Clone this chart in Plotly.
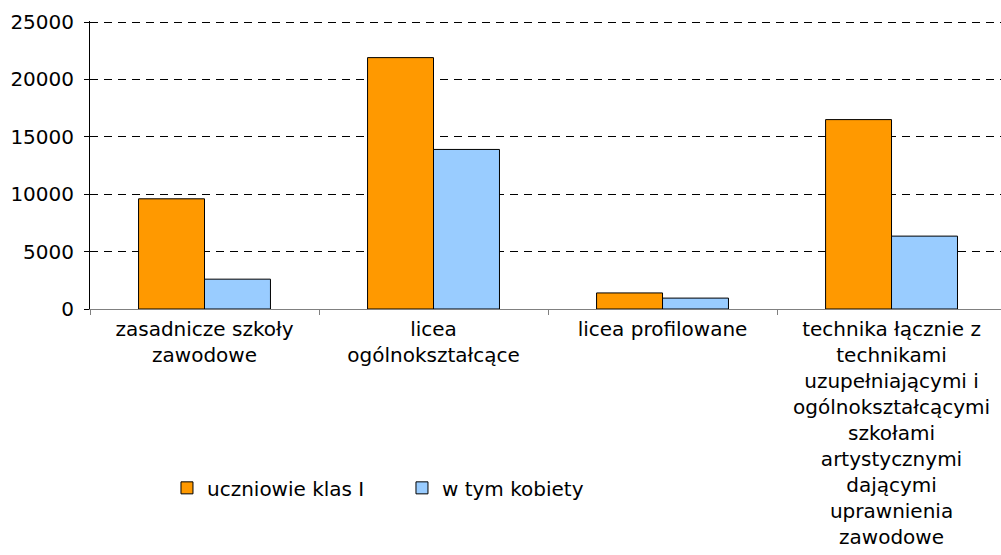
import plotly.graph_objects as go

categories = [
    "zasadnicze szkoły<br>zawodowe",
    "licea<br>ogólnokształcące",
    "licea profilowane",
    "technika łącznie z<br>technikami<br>uzupełniającymi i<br>ogólnokształcącymi<br>szkołami<br>artystycznymi<br>dającymi<br>uprawnienia<br>zawodowe",
]
series_names = ["uczniowie klas I", "w tym kobiety"]
uczniowie = [9600, 21900, 1400, 16500]
kobiety = [2600, 13900, 950, 6350]
y_ticks = [0, 5000, 10000, 15000, 20000, 25000]
y_tick_labels = ["0", "5000", "10000", "15000", "20000", "25000"]

FONT = "Verdana, DejaVu Sans, sans-serif"

fig = go.Figure()
fig.add_trace(go.Bar(x=categories, y=uczniowie, name=series_names[0],
                     marker=dict(color="#FF9900", line=dict(color="#000000", width=1))))
fig.add_trace(go.Bar(x=categories, y=kobiety, name=series_names[1],
                     marker=dict(color="#99CCFF", line=dict(color="#000000", width=1))))

fig.update_layout(
    width=1001, height=555,
    margin=dict(l=90, r=0, t=21, b=246),
    paper_bgcolor="white", plot_bgcolor="white",
    font=dict(family=FONT, size=20, color="#000000"),
    barmode="group", bargap=0.424, bargroupgap=0,
    showlegend=True,
    legend=dict(orientation="h", x=0.0845, y=-0.621, xanchor="left", yanchor="middle",
                font=dict(size=20), entrywidth=190, traceorder="normal"),
)
fig.update_xaxes(
    range=[-0.5, 3.478], tickson="boundaries", ticks="outside", ticklen=5,
    tickcolor="#808080", showline=True, linecolor="#808080", linewidth=1,
    showgrid=False, tickangle=0, fixedrange=True, ticklabelstandoff=2,
)
fig.update_yaxes(
    range=[0, 25090], tickvals=y_ticks, ticktext=y_tick_labels,
    ticks="outside", ticklen=5, tickcolor="#000000",
    showline=True, linecolor="#000000", linewidth=1,
    showgrid=True, gridcolor="#000000", griddash="8px,6px", gridwidth=1,
    zeroline=False, ticklabelstandoff=6, fixedrange=True,
)

fig.write_html("out.html", config={"displayModeBar": False},
               post_script="document.body.style.margin='0';")
